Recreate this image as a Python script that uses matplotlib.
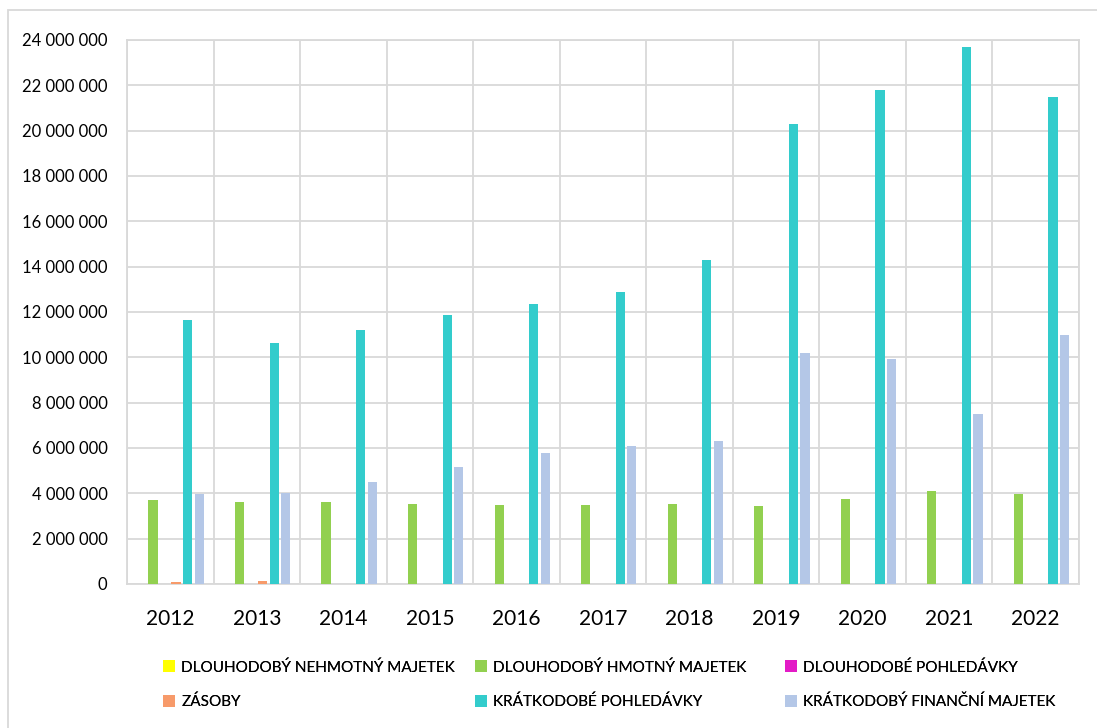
import matplotlib.pyplot as plt
import numpy as np
from matplotlib.patches import Rectangle
from matplotlib.ticker import FuncFormatter

years = ['2012', '2013', '2014', '2015', '2016', '2017', '2018', '2019', '2020', '2021', '2022']

nehmotny = [0, 0, 0, 0, 0, 0, 0, 0, 0, 0, 0]
hmotny = [3700000, 3620000, 3610000, 3550000, 3490000, 3500000, 3510000, 3450000, 3760000, 4100000, 3950000]
dl_pohledavky = [0, 0, 0, 0, 0, 0, 0, 0, 0, 0, 0]
zasoby = [70000, 120000, 0, 0, 0, 0, 0, 0, 0, 0, 0]
kr_pohledavky = [11630000, 10650000, 11200000, 11850000, 12350000, 12900000, 14300000, 20300000, 21800000, 23680000, 21500000]
fin_majetek = [3960000, 4000000, 4480000, 5140000, 5780000, 6080000, 6300000, 10200000, 9920000, 7500000, 11000000]

series = [
    ('DLOUHODOBÝ NEHMOTNÝ MAJETEK', nehmotny, '#FFFF00'),
    ('DLOUHODOBÝ HMOTNÝ MAJETEK', hmotny, '#92D050'),
    ('DLOUHODOBÉ POHLEDÁVKY', dl_pohledavky, '#E31BC6'),
    ('ZÁSOBY', zasoby, '#F79A6A'),
    ('KRÁTKODOBÉ POHLEDÁVKY', kr_pohledavky, '#33CCCC'),
    ('KRÁTKODOBÝ FINANČNÍ MAJETEK', fin_majetek, '#B4C7E7'),
]

plt.rcParams['font.family'] = ['Lato', 'DejaVu Sans']

fig = plt.figure(figsize=(10.97, 7.28), dpi=100)
ax = fig.add_axes([127 / 1097, 1 - 584 / 728, (1079 - 127) / 1097, (584 - 40) / 728])

index = np.arange(len(years))
pitch = 0.8 / 6
bar_width = pitch * 0.8
handles = []
for i, (name, vals, col) in enumerate(series):
    b = ax.bar(index + (i - 2.5) * pitch, vals, bar_width, color=col, label=name, zorder=3)
    handles.append(b)

grid_col = '#D9D9D9'
ax.set_xlim(-0.5, len(years) - 0.5)
ax.set_ylim(0, 24000000)
ax.set_yticks(np.arange(0, 24000001, 2000000))
ax.yaxis.set_major_formatter(FuncFormatter(lambda v, p: f'{int(v):,}'.replace(',', ' ')))
ax.set_xticks(index)
ax.set_xticklabels(years, fontsize=15)
ax.set_xticks(np.arange(-0.5, len(years)), minor=True)
ax.tick_params(axis='y', length=0, pad=14, labelsize=12)
ax.tick_params(axis='x', which='both', length=0, pad=18)
ax.grid(axis='y', color=grid_col, linewidth=1.3, zorder=0)
ax.grid(axis='x', which='minor', color=grid_col, linewidth=1.3, zorder=0)
for s in ax.spines.values():
    s.set_color(grid_col)
    s.set_linewidth(1.3)

# legend laid out in three columns like the original
cols_x = [157, 469, 779]
for c in range(3):
    h = [handles[c], handles[c + 3]]
    leg = fig.legend(h, [series[c][0], series[c + 3][0]], loc='upper left',
                     bbox_to_anchor=(cols_x[c] / 1097, 1 - 654 / 728), frameon=False,
                     fontsize=11, handlelength=0.8, handleheight=0.8, handletextpad=0.4,
                     labelspacing=1.3, borderaxespad=0)
    fig.add_artist(leg)

fig.patches.append(Rectangle((8 / 1097, -0.1), 1.2, 1.1 - 10 / 728, transform=fig.transFigure,
                             fill=False, edgecolor=grid_col, linewidth=1.3))

fig.savefig('out.png', dpi=100)
